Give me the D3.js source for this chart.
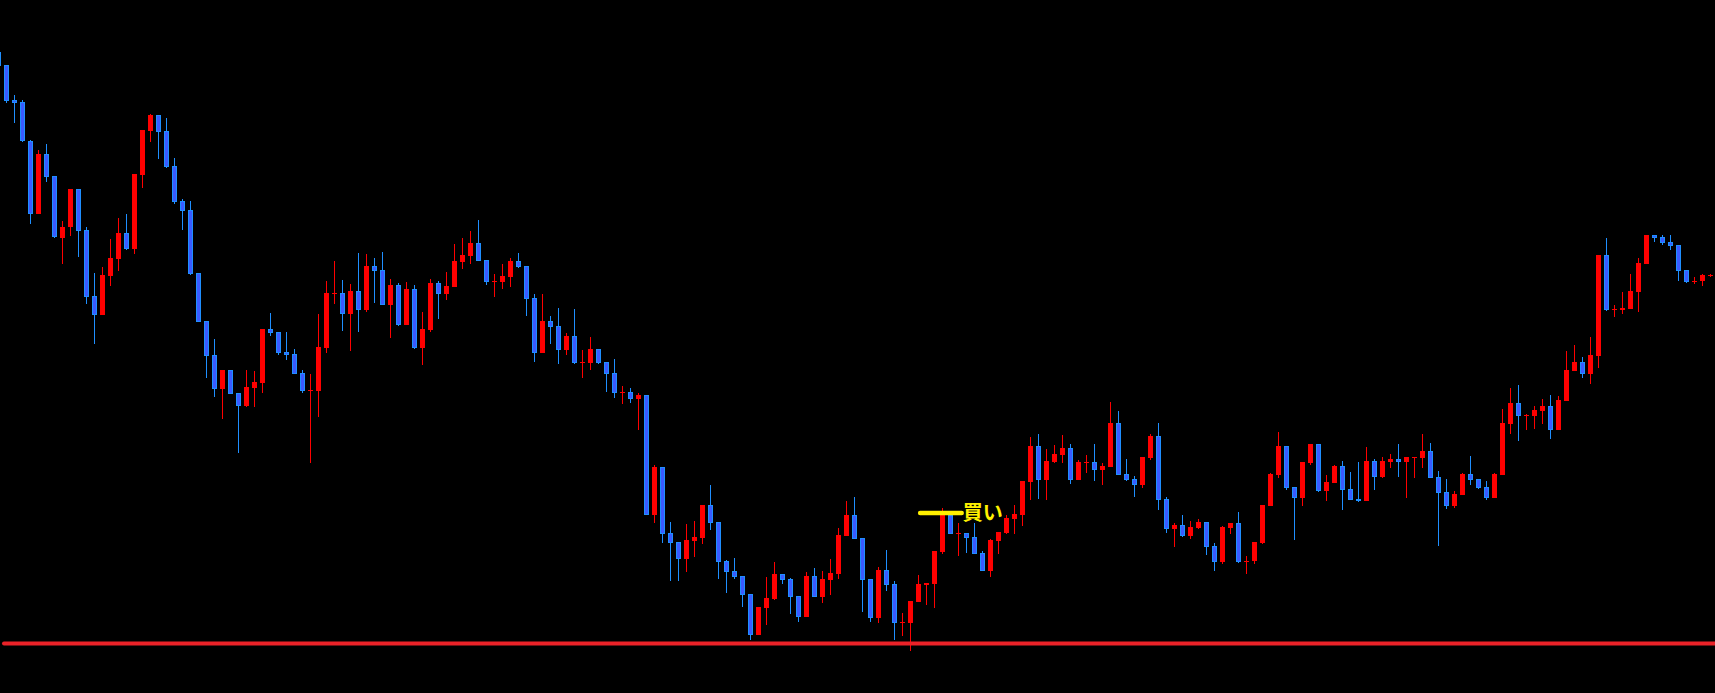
<!DOCTYPE html>
<html>
<head>
<meta charset="utf-8">
<script src="https://cdn.jsdelivr.net/npm/d3@7"></script>
<style>
  html, body { margin: 0; padding: 0; background: #000; overflow: hidden; }
  svg { display: block; }
</style>
</head>
<body>
<svg id="chart"></svg>
<script>
// OHLC (price units, higher = up)
const open = [
  648,635,600,598,559,486,546,524,462,473,
  511,470,404,385,424,441,467,451,525,569,
  585,569,534,499,490,427,379,345,311,330,
  307,294,312,317,371,368,348,346,327,309,
  309,352,407,407,386,409,390,434,430,395,
  415,375,411,352,370,417,406,413,438,444,
  457,440,419,418,423,439,434,402,347,379,
  374,350,364,338,337,351,338,327,308,308,
  301,305,185,233,167,158,141,159,162,195,
  178,139,129,124,106,65,92,101,126,121,
  104,83,124,103,120,126,164,185,162,121,
  82,130,116,78,77,98,115,116,148,185,
  167,167,163,147,129,159,167,181,185,218,
  254,220,238,245,252,220,238,238,230,233,
  277,226,221,215,242,264,201,171,175,164,
  172,178,154,138,172,177,139,139,157,194,
  225,254,213,202,237,256,209,217,234,211,
  201,199,239,223,238,241,238,243,242,249,
  223,208,194,205,226,221,213,202,225,276,
  297,285,284,289,294,270,299,329,338,326,
  344,445,391,390,391,408,436,465,463,458,
  455,430,419,419,425
];
const high = [
  650,635,605,600,560,550,556,524,479,511,
  511,473,427,433,461,482,486,526,570,586,
  585,582,542,501,499,427,379,361,330,330,
  307,330,329,371,387,368,368,351,330,326,
  386,419,439,420,416,447,446,442,448,421,
  417,418,415,388,421,419,428,456,462,469,
  480,440,426,436,442,447,434,406,406,384,
  392,367,391,350,363,351,338,341,314,312,
  307,305,235,233,178,158,176,179,195,215,
  178,140,142,124,106,93,123,138,126,122,
  104,128,132,129,141,172,199,203,162,121,
  133,150,119,87,99,125,117,149,192,185,
  177,167,177,149,161,168,185,195,219,263,
  266,251,255,265,256,240,245,256,237,298,
  289,241,224,243,266,277,203,177,185,179,
  181,178,157,174,177,188,144,158,195,227,
  268,254,213,238,256,256,225,235,239,228,
  238,253,241,243,246,256,243,243,266,257,
  229,221,209,227,244,221,219,227,291,312,
  315,286,294,301,305,304,349,355,343,363,
  445,462,395,408,426,442,465,465,465,465,
  455,430,423,426,426
];
const low = [
  632,597,577,558,476,486,518,462,436,464,
  443,396,356,385,414,429,450,446,512,558,
  541,532,496,470,425,378,322,303,281,306,
  247,293,293,307,364,345,340,326,307,237,
  283,347,396,369,349,368,388,397,395,362,
  374,375,351,335,368,381,400,413,431,436,
  439,415,403,411,413,432,384,338,347,356,
  336,345,336,322,330,336,308,302,296,297,
  270,185,177,157,119,119,128,143,156,170,
  121,107,121,93,60,65,75,100,116,86,
  78,83,103,97,105,121,164,161,88,78,
  77,109,60,64,49,98,95,92,146,166,
  144,147,146,129,123,146,166,166,174,200,
  201,200,237,237,216,220,227,219,215,233,
  225,219,203,212,240,190,167,153,163,161,
  171,145,129,136,166,137,126,136,156,194,
  222,210,160,194,235,208,199,217,190,200,
  198,199,210,222,232,223,202,222,232,222,
  154,191,192,205,215,211,200,202,225,266,
  259,270,271,276,261,270,299,329,322,316,
  332,389,383,386,391,388,436,458,455,450,
  419,417,416,414,423
];
const close = [
  634,599,597,559,486,546,523,463,473,511,
  469,403,385,425,442,467,451,526,570,585,
  568,533,498,489,426,378,344,311,330,306,
  294,313,318,371,367,347,345,326,309,310,
  353,407,407,386,409,390,434,429,395,415,
  375,411,352,371,417,406,414,439,445,457,
  439,418,419,424,439,433,401,347,379,373,
  350,364,337,338,351,337,326,307,308,301,
  305,185,233,166,157,141,160,163,195,177,
  138,128,123,105,65,93,102,126,120,103,
  83,124,103,121,127,165,185,161,120,82,
  130,115,77,78,99,116,117,149,185,166,
  167,162,146,129,160,168,182,186,219,254,
  220,239,246,252,220,238,238,230,234,277,
  225,220,215,243,264,200,171,175,164,173,
  178,153,138,173,177,138,139,158,195,226,
  254,212,202,238,256,209,218,234,210,200,
  199,239,223,239,241,238,243,243,249,222,
  207,194,206,226,220,212,202,226,277,297,
  284,285,290,294,270,300,330,338,326,345,
  445,390,391,392,409,437,465,462,457,454,
  429,418,419,425,425
];

// horizontal level and entry marker
const supportLevel = 56.5;
const buyFrom = 115.2, buyTo = 120.4, buyPrice = 187;
const buyLabel = "買い";

const W = 1715, H = 693;
const UP = "#ff0000", DOWN_EDGE = "#1f8fff", DOWN_FILL = "#3a5aff";

const n = open.length;
const candles = d3.range(n).map(i => ({ i, o: open[i], h: high[i], l: low[i], c: close[i] }));

const svg = d3.select("#chart").attr("width", W).attr("height", H);
svg.append("rect").attr("width", W).attr("height", H).attr("fill", "#000");

const x = d3.scaleBand()
  .domain(d3.range(n))
  .range([-5.5, 1714.5])
  .paddingInner(0.375)
  .paddingOuter(0.1875);
const bw = x.bandwidth();
const xi = d3.scaleLinear().domain([0, n - 1]).range([x(0) + bw / 2, x(n - 1) + bw / 2]);
const y = d3.scaleLinear().domain([0, 700]).range([700, 0]);

const g = svg.append("g");
const up = d => d.c >= d.o;

g.selectAll(".wick")
  .data(candles)
  .join("line")
  .attr("class", "wick")
  .attr("x1", d => x(d.i) + bw / 2)
  .attr("x2", d => x(d.i) + bw / 2)
  .attr("y1", d => y(d.h))
  .attr("y2", d => y(d.l))
  .attr("stroke", d => up(d) ? UP : DOWN_EDGE)
  .attr("stroke-width", 1);

g.selectAll(".bull")
  .data(candles.filter(up))
  .join("rect")
  .attr("class", "bull")
  .attr("x", d => x(d.i))
  .attr("width", bw)
  .attr("y", d => y(d.c))
  .attr("height", d => Math.max(1, y(d.o) - y(d.c)))
  .attr("fill", UP);

g.selectAll(".bear")
  .data(candles.filter(d => !up(d)))
  .join("rect")
  .attr("class", "bear")
  .attr("x", d => x(d.i) + 0.5)
  .attr("width", bw - 1)
  .attr("y", d => y(d.o) + 0.5)
  .attr("height", d => Math.max(1, y(d.c) - y(d.o) - 1))
  .attr("fill", DOWN_FILL)
  .attr("stroke", DOWN_EDGE)
  .attr("stroke-width", 1);

svg.append("line")
  .attr("x1", 4).attr("x2", W + 4)
  .attr("y1", y(supportLevel)).attr("y2", y(supportLevel))
  .attr("stroke", "#ea2228")
  .attr("stroke-width", 4)
  .attr("stroke-linecap", "round");

svg.append("line")
  .attr("x1", xi(buyFrom)).attr("x2", xi(buyTo))
  .attr("y1", y(buyPrice)).attr("y2", y(buyPrice))
  .attr("stroke", "#fff000")
  .attr("stroke-width", 4.5)
  .attr("stroke-linecap", "round");

svg.append("text")
  .attr("x", xi(buyTo) + 1)
  .attr("y", y(buyPrice))
  .attr("dy", "0.36em")
  .attr("fill", "#fff000")
  .attr("font-family", "'Noto Sans CJK JP', sans-serif")
  .attr("font-weight", "bold")
  .attr("font-size", 20)
  .text(buyLabel);
</script>
</body>
</html>
